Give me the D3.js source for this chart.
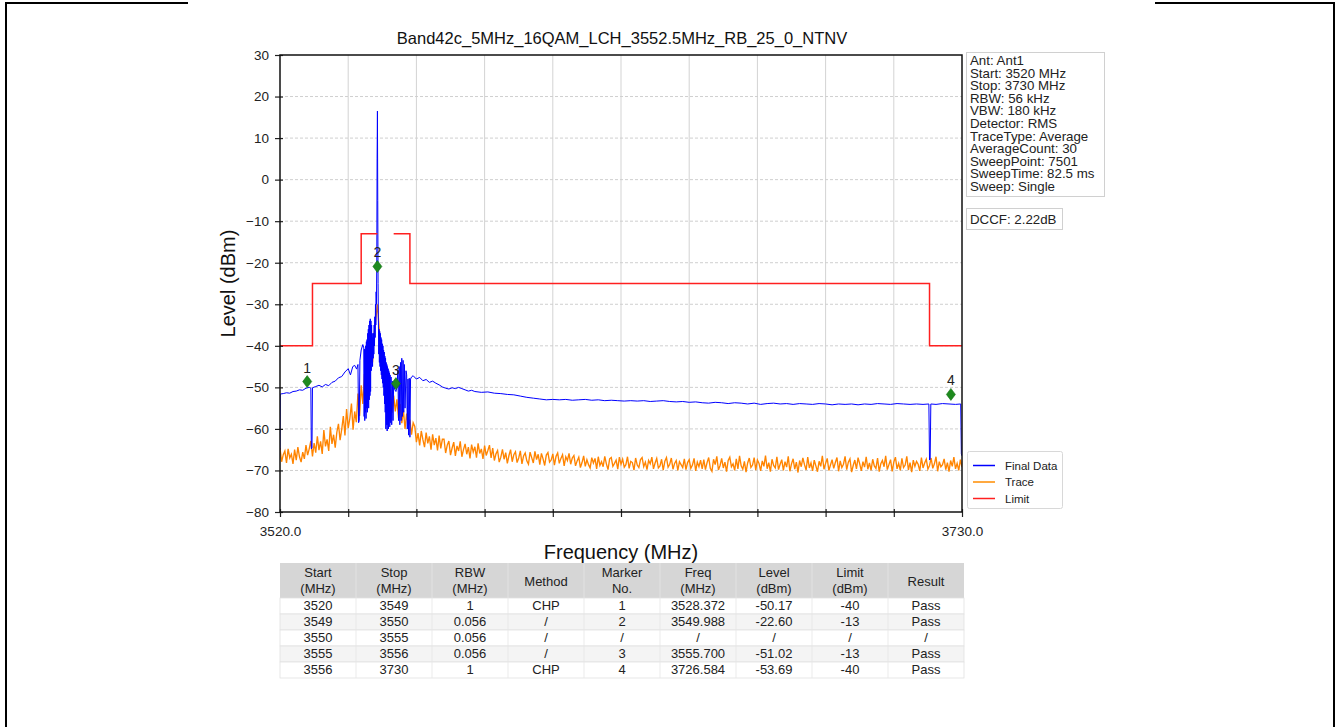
<!DOCTYPE html>
<html><head><meta charset="utf-8">
<script src="https://cdn.jsdelivr.net/npm/d3@7"></script>
<style>
body{margin:0;background:#fff;}
svg{display:block;font-family:"Liberation Sans",Arial,sans-serif;}
</style></head>
<body><svg id="c" width="1338" height="727"></svg>
<script>
// ---------------- data ----------------
const title = "Band42c_5MHz_16QAM_LCH_3552.5MHz_RB_25_0_NTNV";
const yTicks = [-80,-70,-60,-50,-40,-30,-20,-10,0,10,20,30];
const xTicks = [3520,3541,3562,3583,3604,3625,3646,3667,3688,3709,3730];
const xTickLabels = ["3520.0","","","","","","","","","","3730.0"];

// Limit line (MHz, dBm); null = no limit
const limitFreq  = [3520,3530,3530,3545,3545,3550,null,3555,3560,3560,3720,3720,3730];
const limitLevel = [-40,-40,-25,-25,-13,-13,null,-13,-13,-25,-25,-40,-40];

// Final Data (blue): [MHz, dBm]
const finalData = [
[3520.0,-65.0],[3520.1,-51.6],[3521,-51.5],[3522,-51.3],[3523,-51.4],[3524,-51.0],[3525,-50.9],[3526,-50.6],[3527,-50.7],[3528,-50.2],[3529,-50.0],[3529.5,-50.2],[3529.65,-64.8],[3529.85,-64.5],[3530,-50.1],
[3531,-49.8],[3532,-49.5],[3533,-49.9],[3534,-49.3],[3535,-49.6],[3536,-48.8],[3537,-48.5],[3538,-47.7],[3539,-47.4],[3540,-46.3],[3541,-45.5],[3541.7,-47.0],[3542.4,-45.0],[3543,-44.7],[3543.6,-45.6],[3544,-44.5],[3544.2,-58.5],[3544.4,-58.0],[3544.6,-43.5],[3545,-41.0],[3545.5,-39.7],[3545.8,-40.5],
[3545.9,-57],[3546.0,-40.8],[3546.1,-58],[3546.2,-41],[3546.3,-56],[3546.4,-40],[3546.5,-57.5],[3546.6,-39],[3546.7,-55],[3546.8,-38.5],[3546.9,-56],[3547.0,-37],[3547.1,-54],[3547.2,-36],[3547.3,-55],[3547.4,-35],[3547.5,-53],[3547.6,-34],[3547.7,-52],[3547.8,-33.5],[3547.9,-51],[3548.0,-34],
[3548.1,-46],[3548.2,-35],[3548.3,-44],[3548.4,-37],[3548.5,-45],[3548.6,-38],[3548.7,-43],[3548.8,-37],[3548.9,-42],[3549.0,-35],[3549.1,-40],[3549.2,-33],[3549.3,-38],[3549.4,-30],[3549.5,-35],[3549.6,-27],[3549.7,-30],
[3549.8,-20],[3549.9,5],[3550.0,16.5],[3550.1,-5],[3550.2,-25],[3550.3,-34],
[3550.4,-42],[3550.5,-36],[3550.6,-44],[3550.7,-36.5],[3550.8,-45],[3550.9,-37],[3551.0,-46],[3551.1,-38],[3551.2,-47],[3551.3,-38.5],[3551.4,-48],[3551.5,-39.5],[3551.6,-49],[3551.7,-40],[3551.8,-50],[3551.9,-41],[3552.0,-52],[3552.1,-41.5],[3552.2,-54],[3552.3,-42.5],[3552.4,-56],[3552.5,-43],
[3552.6,-60],[3552.7,-44],[3552.8,-59],[3552.9,-44.5],[3553.0,-60.5],[3553.1,-45],[3553.2,-59],[3553.3,-45.5],[3553.4,-60],[3553.5,-46],[3553.6,-58],[3553.7,-46.5],[3553.8,-59.5],[3553.9,-47],[3554.0,-58.5],[3554.2,-47.5],[3554.4,-59],[3554.6,-48.5],[3554.8,-58],[3555.0,-49],
[3555.3,-50.5],[3555.7,-51.0],[3556.0,-50.0],[3556.3,-46],[3556.5,-58],[3556.7,-45],[3556.9,-59],[3557.1,-44],[3557.3,-58],[3557.5,-43],[3557.7,-57],[3557.9,-43.5],[3558.1,-56],[3558.3,-44.5],[3558.5,-55],[3558.8,-46],[3559.0,-47],[3559.2,-60],[3559.4,-48],[3559.6,-61.5],[3559.8,-47.8],[3560.0,-62],[3560.2,-48],[3560.5,-47.5],
[3561,-47.2],[3562,-48.0],[3563,-47.6],[3564,-48.4],[3565,-48.1],[3566,-48.8],[3567,-48.5],[3568,-49.0],[3569,-49.4],[3570,-49.9],[3571,-50.2],[3572,-50.4],[3573,-50.1],[3574,-50.3],[3575,-50.0],[3576,-50.3],[3577,-50.6],[3578,-50.9],[3579,-50.7],[3580,-51.0],
[3582,-51.2],[3584,-51.1],[3586,-51.4],[3588,-51.5],[3590,-51.7],[3592,-51.8],[3594,-52.1],[3596,-52.4],[3598,-52.6],[3600,-52.8],[3602,-53.0],[3604,-52.9],[3606,-53.0],[3608,-52.9],[3610,-53.1],[3612,-53.0],[3614,-52.9],[3616,-53.1],[3618,-53.0],[3620,-53.2],
[3622,-53.1],[3624,-53.2],[3626,-53.3],[3628,-53.2],[3630,-53.3],[3632,-53.2],[3634,-53.4],[3636,-53.3],[3638,-53.2],[3640,-53.4],[3642,-53.5],[3644,-53.4],[3646,-53.6],[3648,-53.5],[3650,-53.7],[3652,-53.8],[3654,-53.6],[3656,-53.7],[3658,-53.9],[3660,-53.7],
[3662,-53.8],[3664,-54.0],[3666,-53.8],[3668,-54.1],[3670,-53.9],[3672,-53.8],[3674,-54.0],[3676,-53.9],[3678,-54.1],[3680,-53.9],[3682,-54.0],[3684,-54.1],[3686,-53.9],[3688,-54.0],[3690,-54.2],[3692,-54.0],[3694,-54.1],[3696,-54.0],[3698,-54.2],[3700,-54.0],
[3702,-54.1],[3704,-53.9],[3706,-54.0],[3708,-54.1],[3710,-53.9],[3712,-54.0],[3714,-54.1],[3716,-54.0],[3718,-54.1],[3719.8,-54.0],[3720.0,-67.5],[3720.2,-67.3],[3720.4,-54.0],[3722,-54.1],[3724,-53.9],[3726,-54.0],[3728,-54.1],[3729.6,-54.0],[3729.8,-66.0],[3730,-66.5]];

// Trace (orange), sweep points every 0.5 MHz from 3520 to 3730
const traceStart = 3520, traceStep = 0.5;
const traceLevel = [
-64.6,-67.9,-66.2,-65.3,-68.2,-64.8,-67.0,-66.1,-68.4,-65.0,-67.5,-64.4,-66.7,-68.0,-65.6,
-67.2,-63.9,-66.3,-64.8,-62.9,-66.6,-63.4,-65.7,-61.8,-65.1,-63.0,-66.0,-60.3,-64.2,-62.5,-65.3,-59.5,-63.6,-61.4,-64.5,-60.8,
-58.8,-62.7,-60.1,-56.9,-61.6,-55.2,-59.8,-57.5,-53.9,-60.2,-55.8,-58.4,-51.5,-56.9,
-49.5,-54.0,-46.8,-51.5,-44.0,-48.2,-41.5,-44.0,-37.0,-33.5,-30.0,-35.5,-41.0,-47.5,-45.8,-51.6,-48.7,-54.3,-50.5,-56.1,-52.0,
-55.8,-52.9,-57.4,-54.0,-58.6,-55.5,-60.0,-56.3,-59.2,-57.8,-61.4,-58.5,
-59.4,-63.2,-61.0,-64.0,-60.5,-62.6,-64.4,-60.9,-63.5,-61.8,-65.0,-61.3,-63.9,-62.2,-65.2,-61.6,-64.7,-62.5,
-62.5,-65.8,-63.9,-62.9,-66.3,-64.6,-63.2,-66.5,-64.1,-65.3,
-63.0,-66.7,-65.0,-63.6,-66.1,-64.4,-67.1,-63.8,-65.6,-64.3,
-66.9,-63.5,-65.9,-64.8,-67.2,-64.0,-66.4,-65.2,-63.9,-67.0,
-64.6,-67.6,-66.0,-65.2,-68.0,-66.8,-64.9,-67.3,-65.7,-68.3,
-66.4,-65.0,-67.9,-66.2,-65.5,-68.1,-67.0,-65.3,-68.4,-66.5,
-65.8,-67.7,-68.5,-65.6,-66.9,-68.2,-65.4,-67.4,-66.1,-68.6,
-65.9,-67.2,-68.8,-66.3,-65.7,-68.0,-67.5,-66.0,-68.7,-66.6,
-65.8,-68.3,-67.1,-66.2,-68.9,-66.7,-67.6,-65.9,-68.5,-67.0,
-66.4,-68.9,-67.7,-66.8,-69.3,-68.1,-66.5,-69.0,-67.4,-68.6,
-69.4,-66.9,-68.2,-67.1,-69.6,-66.7,-68.8,-67.9,-69.1,-66.6,
-68.4,-69.8,-67.2,-66.9,-69.0,-68.3,-67.5,-69.7,-66.8,-68.5,
-67.3,-69.2,-68.6,-66.7,-69.5,-67.8,-68.1,-69.9,-67.0,-68.7,
-69.3,-67.4,-66.9,-69.1,-68.0,-69.8,-67.6,-68.4,-66.8,-69.6,
-68.2,-67.1,-69.4,-68.9,-67.3,-69.9,-67.8,-66.9,-69.2,-68.5,
-67.0,-69.7,-68.3,-67.6,-70.0,-67.9,-68.6,-69.3,-67.2,-69.8,
-68.1,-67.4,-69.5,-68.7,-67.1,-70.1,-68.0,-69.1,-67.5,-69.6,
-67.4,-69.8,-68.1,-66.9,-69.5,-70.2,-67.3,-68.6,-66.6,-69.9,
-68.8,-67.1,-69.4,-68.0,-70.3,-67.6,-66.8,-69.1,-68.4,-70.0,
-67.2,-69.6,-66.5,-68.9,-69.7,-67.8,-70.4,-68.2,-67.0,-69.3,
-68.7,-66.9,-69.9,-67.5,-68.3,-70.1,-67.7,-69.0,-66.4,-69.6,
-68.1,-70.3,-67.3,-68.8,-69.4,-66.7,-69.8,-68.5,-67.4,-70.0,
-67.9,-69.2,-66.6,-70.2,-68.4,-67.2,-69.7,-68.0,-70.5,-67.6,
-69.1,-67.0,-68.6,-69.9,-66.8,-69.4,-68.2,-70.1,-67.5,-68.9,
-70.3,-67.8,-69.0,-66.5,-69.7,-68.3,-67.1,-70.0,-68.7,-67.4,
-69.5,-68.1,-66.9,-70.2,-67.7,-69.3,-68.5,-66.6,-69.8,-68.0,
-67.2,-70.4,-68.8,-67.5,-69.6,-66.9,-68.4,-70.1,-67.9,-69.2,
-66.7,-69.7,-68.2,-70.0,-67.3,-68.9,-69.5,-67.0,-70.3,-68.4,
-67.6,-69.1,-66.5,-69.8,-68.6,-67.4,-70.2,-68.0,-66.8,-69.6,
-68.3,-70.0,-67.1,-69.3,-68.7,-66.6,-69.9,-68.1,-70.4,-67.5,
-69.0,-67.8,-68.5,-70.1,-66.9,-69.4,-68.2,-67.3,-69.7,-68.8,
-67.0,-69.5,-68.4,-66.7,-70.2,-67.9,-69.1,-68.6,-67.2,-69.8,
-68.1,-70.3,-67.6,-69.0,-66.8,-69.6,-68.3,-70.0,-67.4,-69.2];

// Markers (from the table) and their plotted levels
const markerNo = ["1","2","3","4"];
const markerFreq = [3528.372,3549.988,3555.700,3726.584];
const markerPlotLevel = [-48.6,-20.9,-49.1,-51.7];

const infoLines = ["Ant: Ant1","Start: 3520 MHz","Stop: 3730 MHz","RBW: 56 kHz","VBW: 180 kHz","Detector: RMS","TraceType: Average","AverageCount: 30","SweepPoint: 7501","SweepTime: 82.5 ms","Sweep: Single"];
const dccfText = "DCCF: 2.22dB";

const legendNames = ["Final Data","Trace","Limit"];
const legendColors = ["#0000ff","#ff8c00","#ff2020"];

const tableHeader = [["Start","(MHz)"],["Stop","(MHz)"],["RBW","(MHz)"],["Method"],["Marker","No."],["Freq","(MHz)"],["Level","(dBm)"],["Limit","(dBm)"],["Result"]];
const tableRows = [
 ["3520","3549","1","CHP","1","3528.372","-50.17","-40","Pass"],
 ["3549","3550","0.056","/","2","3549.988","-22.60","-13","Pass"],
 ["3550","3555","0.056","/","/","/","/","/","/"],
 ["3555","3556","0.056","/","3","3555.700","-51.02","-13","Pass"],
 ["3556","3730","1","CHP","4","3726.584","-53.69","-40","Pass"]];

// ---------------- drawing ----------------
const svg = d3.select("#c");
const L=280, R=962, T=55, B=512;
const x = d3.scaleLinear([3520,3730],[L,R]);
const y = d3.scaleLinear([-80,30],[B,T]);

// outer frame
const frame = svg.append("g").attr("stroke","#000").attr("stroke-width",2);
frame.append("line").attr("x1",6).attr("x2",6).attr("y1",3).attr("y2",727);
frame.append("line").attr("x1",1334).attr("x2",1334).attr("y1",3).attr("y2",727);
frame.append("line").attr("x1",5).attr("x2",188).attr("y1",3).attr("y2",3);
frame.append("line").attr("x1",1155).attr("x2",1335).attr("y1",3).attr("y2",3);

// title
svg.append("text").attr("x",(L+R)/2+1).attr("y",44).attr("text-anchor","middle")
  .attr("font-size",16.5).attr("fill","#111").text(title);

// grid
const grid = svg.append("g");
grid.selectAll("line.gx").data(xTicks.slice(1,-1)).join("line")
  .attr("x1",d=>x(d)).attr("x2",d=>x(d)).attr("y1",T).attr("y2",B)
  .attr("stroke","#d3d3d3").attr("stroke-width",1);
grid.selectAll("line.gy").data(yTicks.slice(1,-1)).join("line")
  .attr("x1",L).attr("x2",R).attr("y1",d=>y(d)).attr("y2",d=>y(d))
  .attr("stroke","#cfcfcf").attr("stroke-width",1).attr("stroke-dasharray","3,2");

// clip
svg.append("clipPath").attr("id","clip").append("rect").attr("x",L).attr("y",T).attr("width",R-L).attr("height",B-T);
const plot = svg.append("g").attr("clip-path","url(#clip)");

// trace (orange)
const traceData = traceLevel.map((v,i)=>[traceStart+i*traceStep, v]);
plot.append("path").datum(traceData)
  .attr("d", d3.line().x(d=>x(d[0])).y(d=>y(d[1])))
  .attr("fill","none").attr("stroke","#ff8400").attr("stroke-width",1.35);

// final data (blue)
plot.append("path").datum(finalData)
  .attr("d", d3.line().x(d=>x(d[0])).y(d=>y(d[1])))
  .attr("fill","none").attr("stroke","#0000ff").attr("stroke-width",1);

// limit (red)
const limData = limitFreq.map((f,i)=>[f, limitLevel[i]]);
plot.append("path").datum(limData)
  .attr("d", d3.line().defined(d=>d[0]!==null).x(d=>x(d[0])).y(d=>y(d[1])))
  .attr("fill","none").attr("stroke","#ff2020").attr("stroke-width",1.5);

// markers
const mk = svg.append("g");
markerFreq.forEach((f,i)=>{
  const cx=x(f), cy=y(markerPlotLevel[i]);
  mk.append("path").attr("d",`M${cx},${cy-6}L${cx+4.5},${cy}L${cx},${cy+6}L${cx-4.5},${cy}Z`)
    .attr("fill","#1e8a1e").attr("stroke","#137013").attr("stroke-width",0.6);
  mk.append("text").attr("x",cx).attr("y",cy-9).attr("text-anchor","middle")
    .attr("font-size",14).attr("fill","#222").text(markerNo[i]);
});

// axes
const yAxis = d3.axisLeft(y).tickValues(yTicks).tickSize(5).tickPadding(6)
  .tickFormat(d=> d<0 ? "\u2212"+Math.abs(d) : String(d));
const gy = svg.append("g").attr("transform",`translate(${L},0)`).call(yAxis);
const xAxis = d3.axisBottom(x).tickValues(xTicks).tickSize(5).tickPadding(9).tickFormat((d,i)=>xTickLabels[i]);
const gx = svg.append("g").attr("transform",`translate(0,${B})`).call(xAxis);
[gx,gy].forEach(g=>{
  g.select(".domain").remove();
  g.selectAll("text").attr("font-size",13.5).attr("fill","#222").attr("font-family","Liberation Sans, Arial, sans-serif");
  g.selectAll(".tick line").attr("stroke","#222").attr("stroke-width",1.2);
});
gy.selectAll(".tick line").attr("x1",3);
gx.selectAll(".tick line").attr("y1",-3);
// spines
svg.append("rect").attr("x",L).attr("y",T).attr("width",R-L).attr("height",B-T)
  .attr("fill","none").attr("stroke","#111").attr("stroke-width",1.5);

// axis labels
svg.append("text").attr("x",(L+R)/2).attr("y",559).attr("text-anchor","middle")
  .attr("font-size",20).attr("fill","#111").text("Frequency (MHz)");
svg.append("text").attr("transform",`translate(235,${(T+B)/2}) rotate(-90)`).attr("text-anchor","middle")
  .attr("font-size",20).attr("fill","#111").text("Level (dBm)");

// info box
svg.append("rect").attr("x",966.5).attr("y",52.5).attr("width",138).attr("height",144)
  .attr("fill","#fff").attr("stroke","#d0d0d0").attr("stroke-width",1);
svg.append("g").selectAll("text").data(infoLines).join("text")
  .attr("x",970).attr("y",(d,i)=>65+i*12.6).attr("font-size",13.3).attr("fill","#222").text(d=>d);
svg.append("rect").attr("x",966.5).attr("y",208.5).attr("width",96).attr("height",21)
  .attr("fill","#fff").attr("stroke","#d0d0d0").attr("stroke-width",1);
svg.append("text").attr("x",970).attr("y",224).attr("font-size",13.3).attr("fill","#222").text(dccfText);

// legend
svg.append("rect").attr("x",967.5).attr("y",451.5).attr("width",95).attr("height",57).attr("rx",2)
  .attr("fill","#fff").attr("stroke","#d8d8d8");
const lg = svg.append("g");
legendNames.forEach((n,i)=>{
  const yy = 465.5+i*16.5;
  lg.append("line").attr("x1",973).attr("x2",995).attr("y1",yy).attr("y2",yy).attr("stroke",legendColors[i]).attr("stroke-width",1.5);
  lg.append("text").attr("x",1005).attr("y",yy+4).attr("font-size",11.5).attr("fill","#222").text(n);
});

// table
const colW = 76, tX = 280, hY = 563, hH = 35, rH = 16;
const tb = svg.append("g");
tb.append("rect").attr("x",tX).attr("y",hY).attr("width",colW*9).attr("height",hH).attr("fill","#d6d6d6");
tableRows.forEach((r,ri)=>{
  tb.append("rect").attr("x",tX).attr("y",hY+hH+ri*rH).attr("width",colW*9).attr("height",rH)
    .attr("fill",ri%2? "#f4f4f4":"#ffffff").attr("stroke","#e2e2e2").attr("stroke-width",0.8);
});
for(let c=1;c<9;c++){
  tb.append("line").attr("x1",tX+c*colW).attr("x2",tX+c*colW).attr("y1",hY).attr("y2",hY+hH+5*rH)
    .attr("stroke","#e6e6e6").attr("stroke-width",0.8);
}
tableHeader.forEach((h,c)=>{
  const cx = tX+c*colW+colW/2;
  h.forEach((s,k)=>{
    const yy = h.length===1 ? hY+hH/2+5 : hY+14+k*15.5;
    tb.append("text").attr("x",cx).attr("y",yy).attr("text-anchor","middle").attr("font-size",13).attr("fill","#222").text(s);
  });
});
tableRows.forEach((r,ri)=>{
  r.forEach((s,c)=>{
    tb.append("text").attr("x",tX+c*colW+colW/2).attr("y",hY+hH+ri*rH+12).attr("text-anchor","middle")
      .attr("font-size",13).attr("fill","#222").text(s);
  });
});
</script></body></html>
